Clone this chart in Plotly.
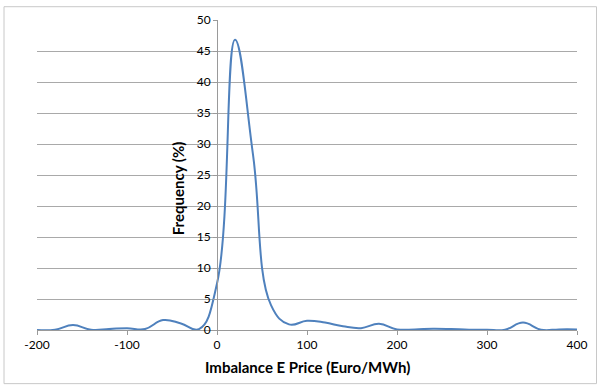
import plotly.graph_objects as go

# Data (bin centre price, frequency %)
price = [-200, -180, -160, -140, -120, -100, -80, -60, -40, -20,
         0, 20, 40, 60, 80, 100, 120, 140, 160, 180,
         200, 220, 240, 260, 280, 300, 320, 340, 360, 380, 400]
frequency = [0.0, 0.05, 0.8, 0.05, 0.15, 0.3, 0.15, 1.6, 1.05, 0.15,
             7.5, 46.8, 28.3, 4.0, 0.9, 1.5, 1.2, 0.6, 0.3, 1.0,
             0.1, 0.1, 0.2, 0.15, 0.05, 0.05, 0.05, 1.2, 0.05, 0.1, 0.1]

x_ticks = [-200, -100, 0, 100, 200, 300, 400]
y_ticks = [0, 5, 10, 15, 20, 25, 30, 35, 40, 45, 50]
x_title = "Imbalance E Price (Euro/MWh)"
y_title = "Frequency (%)"

W, H = 602, 386
L, R, T, B = 37, 25, 15, 56
pw, ph = W - L - R, H - T - B

FONT = "Lato"
GRID = "#a9a9a9"
AXIS = "#9a9a9a"

fig = go.Figure()
fig.add_trace(go.Scatter(
    x=price, y=frequency, mode="lines",
    line=dict(color="#4F81BD", width=2, shape="spline", smoothing=1.2),
    showlegend=False, hoverinfo="skip"))

fig.update_layout(
    width=W, height=H,
    margin=dict(l=L, r=R, t=T, b=B),
    paper_bgcolor="white", plot_bgcolor="white",
    font=dict(family=FONT, size=12, color="#000000"),
    xaxis=dict(range=[-200, 400], tickvals=x_ticks, ticktext=[str(v) for v in x_ticks],
               showgrid=False, zeroline=False, showline=True, linecolor=AXIS, linewidth=1,
               ticks="outside", ticklen=4, tickcolor=AXIS,
               tickfont=dict(family=FONT, size=12, color="#000")),
    yaxis=dict(range=[0, 50], tickvals=y_ticks, ticktext=[str(v) for v in y_ticks],
               showgrid=True, gridcolor=GRID, gridwidth=1, zeroline=False,
               showline=True, linecolor=AXIS, linewidth=1,
               anchor="free", position=1/3,
               ticks="outside", ticklen=4, tickcolor=AXIS,
               tickfont=dict(family=FONT, size=12, color="#000")),
    annotations=[
        dict(text="<b>" + x_title + "</b>", xref="paper", yref="paper",
             x=0.5, y=(330 - 368) / ph, xanchor="center", yanchor="middle",
             showarrow=False, font=dict(family=FONT, size=15, color="#000")),
        dict(text="<b>" + y_title + "</b>", xref="paper", yref="paper",
             x=(178 - L) / pw, y=(330 - 186) / ph, xanchor="center", yanchor="middle",
             textangle=-90, showarrow=False, font=dict(family=FONT, size=15, color="#000")),
    ],
    shapes=[
        dict(type="rect", xref="paper", yref="paper",
             x0=(4 - L) / pw, x1=(596.5 - L) / pw,
             y0=(330 - 384.5) / ph, y1=(330 - 1.5) / ph,
             line=dict(color="#c8c8c8", width=1), fillcolor="rgba(0,0,0,0)", layer="below"),
    ],
)

fig.write_html("out.html")
